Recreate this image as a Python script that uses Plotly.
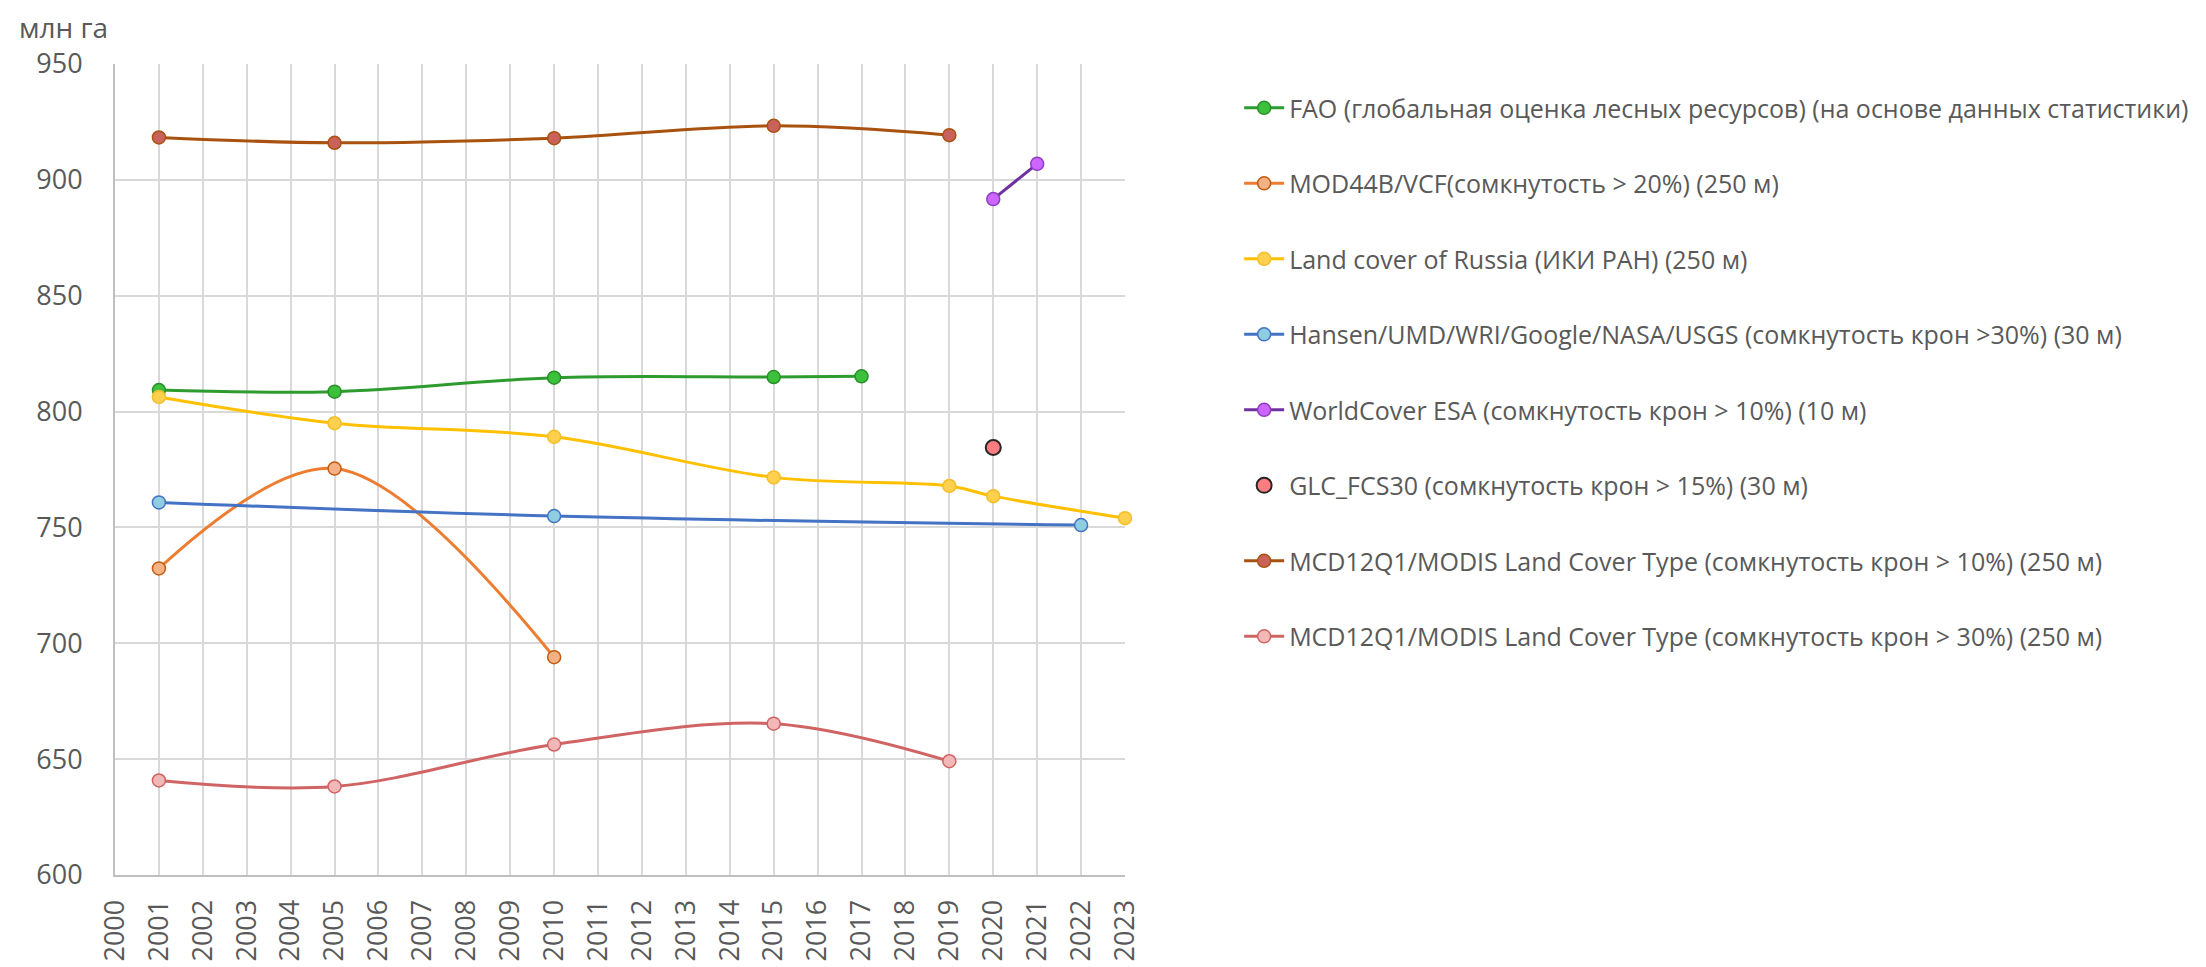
import plotly.graph_objects as go

tick_years = list(range(2000, 2024))
tick_labels = [str(y) for y in tick_years]

fao_x = [2001, 2005, 2010, 2015, 2017]
fao_y = [809.3, 808.6, 814.6, 814.9, 815.2]

mod44_x = [2001, 2005, 2010]
mod44_y = [732.3, 775.4, 694.0]

lcr_x = [2001, 2005, 2010, 2015, 2019, 2020, 2023]
lcr_y = [806.3, 795.0, 789.1, 771.6, 767.9, 763.5, 754.0]

hansen_x = [2001, 2010, 2022]
hansen_y = [760.8, 754.9, 751.0]

wc_x = [2020, 2021]
wc_y = [891.7, 906.9]

glc_x = [2020]
glc_y = [784.5]

mcd10_x = [2001, 2005, 2010, 2015, 2019]
mcd10_y = [918.3, 916.0, 918.0, 923.3, 919.3]

mcd30_x = [2001, 2005, 2010, 2015, 2019]
mcd30_y = [640.8, 638.2, 656.3, 665.3, 649.1]

series = [
    ("FAO (глобальная оценка лесных ресурсов) (на основе данных статистики)", fao_x, fao_y,
     "#2E9B2E", "#3CC13C", "#2A8F2A", "spline"),
    ("MOD44B/VCF(сомкнутость > 20%) (250 м)", mod44_x, mod44_y,
     "#ED7D31", "#F4B183", "#C55A11", "spline"),
    ("Land cover of Russia (ИКИ РАН) (250 м)", lcr_x, lcr_y,
     "#FFC000", "#FFD04D", "#F2BE2A", "spline"),
    ("Hansen/UMD/WRI/Google/NASA/USGS (сомкнутость крон >30%) (30 м)", hansen_x, hansen_y,
     "#4472C4", "#8FCDE0", "#4472C4", "spline"),
    ("WorldCover ESA (сомкнутость крон > 10%) (10 м)", wc_x, wc_y,
     "#7030A0", "#CC66FF", "#8E3CC0", "linear"),
    ("GLC_FCS30 (сомкнутость крон > 15%) (30 м)", glc_x, glc_y,
     None, "#FF7C80", "#262626", None),
    ("MCD12Q1/MODIS Land Cover Type (сомкнутость крон > 10%) (250 м)", mcd10_x, mcd10_y,
     "#A9510F", "#C9625A", "#A9510F", "spline"),
    ("MCD12Q1/MODIS Land Cover Type (сомкнутость крон > 30%) (250 м)", mcd30_x, mcd30_y,
     "#D06464", "#F2B8B8", "#D06464", "spline"),
]

fig = go.Figure()
for i, (name, xs, ys, lc, mfill, mline, shape) in enumerate(series):
    if lc is None:
        fig.add_trace(go.Scatter(
            x=xs, y=ys, name=name, mode="markers", legendgroup=f"g{i}",
            marker=dict(size=15, color=mfill, line=dict(color=mline, width=2)),
            cliponaxis=False))
    else:
        fig.add_trace(go.Scatter(
            x=xs, y=ys, name=name, mode="lines+markers", legendgroup=f"g{i}",
            line=dict(color=lc, width=3, shape=shape, smoothing=1.0),
            marker=dict(size=13, color=mfill, line=dict(color=mline, width=1.5)),
            cliponaxis=False))

fig.update_layout(
    width=2198, height=959,
    margin=dict(l=107, r=1081, t=56, b=92),
    paper_bgcolor="white", plot_bgcolor="white",
    font=dict(family="Open Sans, Noto Sans, sans-serif", color="#595959", size=25),
    showlegend=True,
    legend=dict(
        x=1.113, y=0.974, xanchor="left", yanchor="top",
        font=dict(size=25, color="#595959"),
        tracegroupgap=40, itemwidth=40,
        bgcolor="rgba(0,0,0,0)",
    ),
    xaxis=dict(
        range=[2000, 2023], tickmode="array", tickvals=tick_years, ticktext=tick_labels,
        tickangle=-90, showgrid=True, gridcolor="#D9D9D9", gridwidth=1.5,
        showline=True, linecolor="#BFBFBF", linewidth=2, zeroline=False,
        ticks="", tickfont=dict(size=27, color="#595959"), ticklabelstandoff=12,
        automargin=False,
    ),
    yaxis=dict(
        range=[600, 950], dtick=50, showgrid=True, gridcolor="#D9D9D9", gridwidth=1.5,
        showline=True, linecolor="#BFBFBF", linewidth=2, zeroline=False,
        ticks="", tickfont=dict(size=27, color="#595959"), ticklabelstandoff=25,
        automargin=False,
    ),
    annotations=[dict(
        text="млн га", xref="paper", yref="paper", x=-0.097, y=1.0, xanchor="left",
        yanchor="middle", yshift=37, showarrow=False,
        font=dict(size=28, color="#595959"))],
)

fig.write_html("out.html")
